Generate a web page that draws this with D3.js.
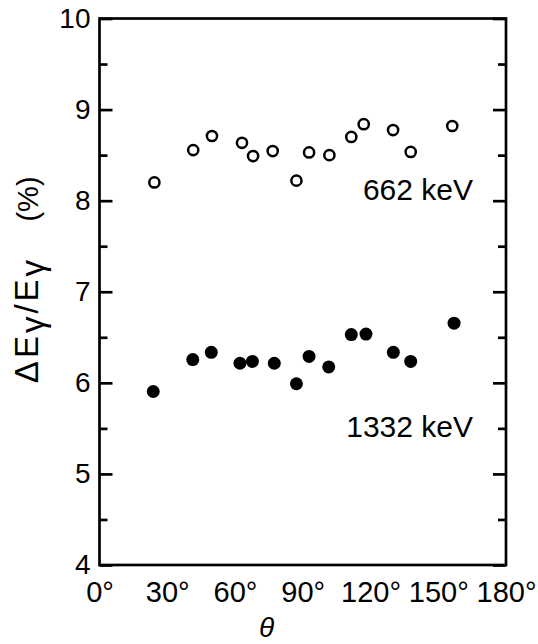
<!DOCTYPE html>
<html>
<head>
<meta charset="utf-8">
<script src="https://cdn.jsdelivr.net/npm/d3@7/dist/d3.min.js"></script>
<style>
  html, body { margin: 0; padding: 0; background: #fff; }
  svg { display: block; }
  text { font-family: "Liberation Sans", Arial, sans-serif; fill: #000; }
</style>
</head>
<body>
<svg id="chart" width="538" height="644"></svg>
<script>
// ---- data ----
const theta662 = [24.3, 41.5, 49.8, 63.1, 68.0, 76.7, 87.2, 92.8, 101.8, 111.5, 117.0, 130.0, 137.8, 156.2];
const res662   = [8.20, 8.555, 8.71, 8.635, 8.49, 8.545, 8.22, 8.53, 8.50, 8.70, 8.84, 8.775, 8.535, 8.82];
const theta1332 = [23.8, 41.3, 49.5, 62.2, 67.7, 77.4, 87.2, 92.8, 101.5, 111.5, 118.0, 130.1, 137.8, 157.0];
const res1332   = [5.905, 6.255, 6.335, 6.215, 6.235, 6.215, 5.99, 6.29, 6.175, 6.53, 6.535, 6.335, 6.235, 6.655];
const xTicks = [0, 30, 60, 90, 120, 150, 180];
const yMajorTicks = [4, 5, 6, 7, 8, 9, 10];
const yMinorTicks = [4.5, 5.5, 6.5, 7.5, 8.5, 9.5];
const label662 = "662 keV";
const label1332 = "1332 keV";

const svg = d3.select("#chart");
const x = d3.scaleLinear().domain([0, 180]).range([99.5, 506]);
const y = d3.scaleLinear().domain([4, 10]).range([565, 18.5]);

const AX = 2.7;

// frame
svg.append("rect")
  .attr("x", x(0)).attr("y", y(10))
  .attr("width", x(180) - x(0)).attr("height", y(4) - y(10))
  .attr("fill", "none").attr("stroke", "#000").attr("stroke-width", AX);

// left axis (inward ticks)
const left = svg.append("g").attr("transform", `translate(${x(0)},0)`)
  .call(d3.axisLeft(y).tickValues(yMajorTicks).tickSize(-13).tickPadding(9)
        .tickFormat(d3.format("d")));
left.select(".domain").remove();
left.selectAll(".tick line").attr("stroke", "#000").attr("stroke-width", AX);
left.selectAll(".tick text").attr("font-size", 28).attr("font-family", "Liberation Sans, Arial, sans-serif");
svg.append("g").attr("transform", `translate(${x(0)},0)`)
  .call(d3.axisLeft(y).tickValues(yMinorTicks).tickSize(-8).tickFormat(""))
  .call(g => g.select(".domain").remove())
  .selectAll(".tick line").attr("stroke", "#000").attr("stroke-width", AX);

// right axis (inward ticks, no labels)
svg.append("g").attr("transform", `translate(${x(180)},0)`)
  .call(d3.axisRight(y).tickValues(yMajorTicks).tickSize(-13).tickFormat(""))
  .call(g => g.select(".domain").remove())
  .selectAll(".tick line").attr("stroke", "#000").attr("stroke-width", AX);
svg.append("g").attr("transform", `translate(${x(180)},0)`)
  .call(d3.axisRight(y).tickValues(yMinorTicks).tickSize(-8).tickFormat(""))
  .call(g => g.select(".domain").remove())
  .selectAll(".tick line").attr("stroke", "#000").attr("stroke-width", AX);

// bottom axis labels (no tick marks)
const bottom = svg.append("g").attr("transform", `translate(0,${y(4)})`)
  .call(d3.axisBottom(x).tickValues(xTicks).tickSize(0).tickFormat(d => d + "°"));
bottom.select(".domain").remove();
bottom.selectAll(".tick text")
  .attr("y", 37).attr("dy", null)
  .attr("font-size", 29).attr("font-family", "Liberation Sans, Arial, sans-serif");

// open circles (662 keV)
svg.append("g").selectAll("circle")
  .data(theta662.map((t, i) => [t, res662[i]]))
  .join("circle")
  .attr("cx", d => x(d[0])).attr("cy", d => y(d[1]))
  .attr("r", 5.1).attr("fill", "#fff").attr("stroke", "#000").attr("stroke-width", 2.5);

// filled circles (1332 keV)
svg.append("g").selectAll("circle")
  .data(theta1332.map((t, i) => [t, res1332[i]]))
  .join("circle")
  .attr("cx", d => x(d[0])).attr("cy", d => y(d[1]))
  .attr("r", 6.5).attr("fill", "#000");

// series labels
svg.append("text").attr("x", 473).attr("y", 200).attr("text-anchor", "end")
  .attr("font-size", 30).text(label662);
svg.append("text").attr("x", 473).attr("y", 437).attr("text-anchor", "end")
  .attr("font-size", 30).text(label1332);

// x-axis title
svg.append("text").attr("x", 266.5).attr("y", 637).attr("text-anchor", "middle")
  .attr("font-size", 28).attr("font-style", "italic").text("θ");

// y-axis title (rotated)
const yt = svg.append("text")
  .attr("transform", "translate(38,320) rotate(-90)")
  .attr("text-anchor", "middle").attr("font-size", 33)
  .attr("font-family", "DejaVu Sans, sans-serif")
  .attr("letter-spacing", 3);
yt.append("tspan").text("ΔE");
yt.append("tspan").attr("dy", 6).text("γ");
yt.append("tspan").attr("dy", -6).text("/E");
yt.append("tspan").attr("dy", 6).text("γ");
svg.append("text")
  .attr("transform", "translate(38,199) rotate(-90)")
  .attr("text-anchor", "middle").attr("font-size", 29)
  .attr("font-family", "DejaVu Sans, sans-serif")
  .text("(%)");
</script>
</body>
</html>
